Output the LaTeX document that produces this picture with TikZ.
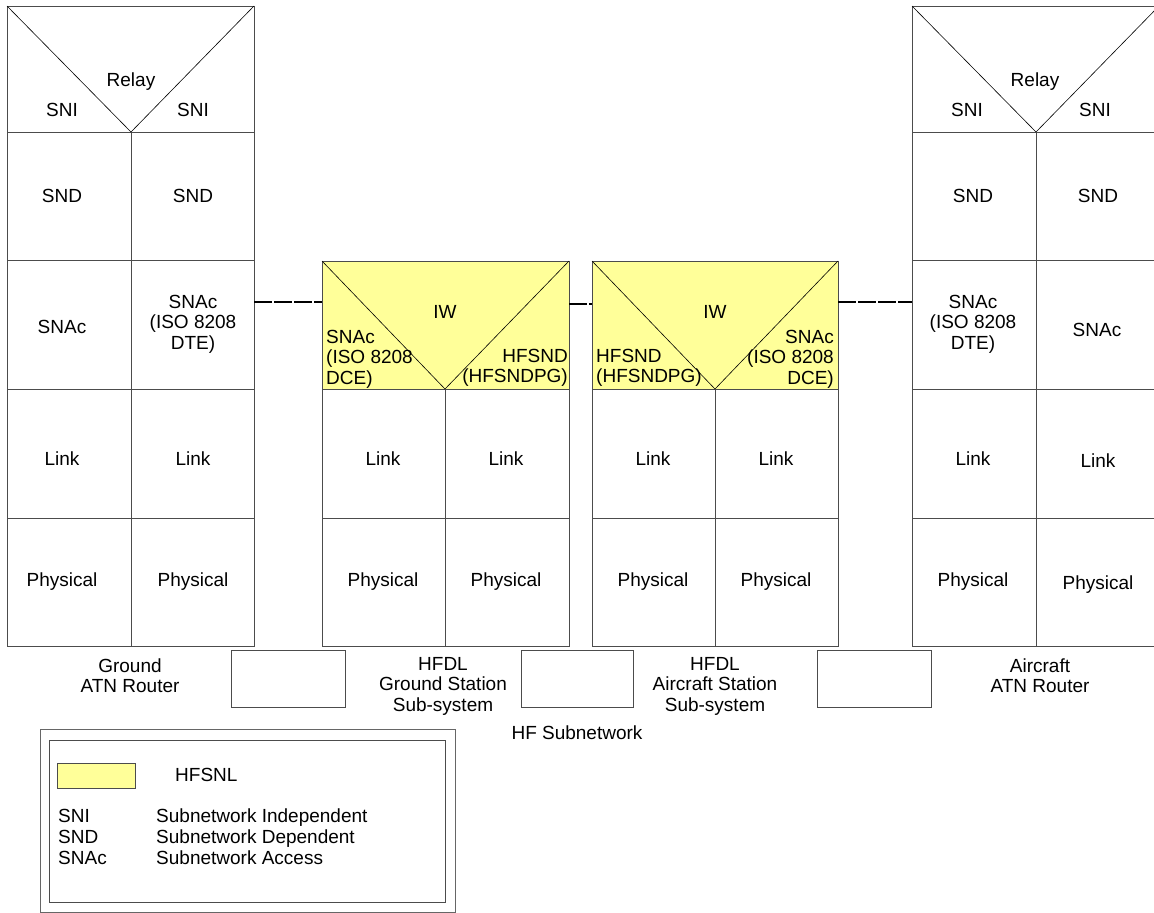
\documentclass[tikz,border=0pt]{standalone}
\usepackage{fontspec}
\setmainfont{Liberation Sans}
\usetikzlibrary{positioning}
\definecolor{snlyellow}{RGB}{255,255,153}
\tikzset{
  frame/.style={draw=black!70,line width=1pt},
  vee/.style={draw=black,line width=0.6pt},
  lbl/.style={font=\fontsize{19}{20.5}\selectfont,inner sep=0pt,align=center},
  sublink/.style={line width=1.6pt,dash pattern=on 18pt off 2pt},
}
\begin{document}
\begin{tikzpicture}[x=1pt,y=-1pt]
 \useasboundingbox (0,0) rectangle (1154,913);
 % ground ATN router
 \draw[frame] (7,6) rectangle (254,646);
 \draw[frame] (7,132)--(254,132) (7,260)--(254,260) (7,389)--(254,389) (7,518)--(254,518);
 \draw[frame] (131,132)--(131,646);
 \draw[vee] (7,6)--(131,132)--(254,6);
 \node[lbl] (grrelay) at (131,82) {Relay};
 \node[lbl] (grsnil) at (62,110) {SNI};
 \node[lbl] (grsnir) at (193,110) {SNI};
 \node[lbl] (grsndl) at (62,196) {SND};
 \node[lbl] (grsndr) at (193,196) {SND};
 \node[lbl] (grsnacl) at (62,327) {SNAc};
 \node[lbl] (grsnacr) at (193,324) {SNAc\\(ISO 8208\\DTE)};
 \node[lbl] (grlinkl) at (62,459) {Link};
 \node[lbl] (grlinkr) at (193,459) {Link};
 \node[lbl] (grphysl) at (62,582) {Physical};
 \node[lbl] (grphysr) at (193,582) {Physical};
 % HFDL ground station
 \fill[snlyellow] (322,261) rectangle (569,389);
 \draw[frame] (322,261) rectangle (569,646);
 \draw[frame] (322,389)--(569,389) (322,518)--(569,518);
 \draw[frame] (445,389)--(445,646);
 \draw[vee] (322,261)--(445,389)--(569,261);
 \node[lbl] (gsiw) at (445,312) {IW};
 \node[lbl,align=left,anchor=west] (gssnac) at (326,359) {SNAc\\(ISO 8208\\DCE)};
 \node[lbl,align=right,anchor=east] (gshfsnd) at (568,368) {HFSND\\(HFSNDPG)};
 \node[lbl] (gslinkl) at (383,459) {Link};
 \node[lbl] (gslinkr) at (506,459) {Link};
 \node[lbl] (gsphysl) at (383,582) {Physical};
 \node[lbl] (gsphysr) at (506,582) {Physical};
 % HFDL aircraft station
 \fill[snlyellow] (592,261) rectangle (838,389);
 \draw[frame] (592,261) rectangle (838,646);
 \draw[frame] (592,389)--(838,389) (592,518)--(838,518);
 \draw[frame] (715,389)--(715,646);
 \draw[vee] (592,261)--(715,389)--(838,261);
 \node[lbl] (asiw) at (715,312) {IW};
 \node[lbl,align=left,anchor=west] (ashfsnd) at (596,368) {HFSND\\(HFSNDPG)};
 \node[lbl,align=right,anchor=east] (assnac) at (834,359) {SNAc\\(ISO 8208\\DCE)};
 \node[lbl] (aslinkl) at (653,459) {Link};
 \node[lbl] (aslinkr) at (776,459) {Link};
 \node[lbl] (asphysl) at (653,582) {Physical};
 \node[lbl] (asphysr) at (776,582) {Physical};
 % aircraft ATN router
 \draw[frame] (912,6) rectangle (1159,646);
 \draw[frame] (912,132)--(1159,132) (912,260)--(1159,260) (912,389)--(1159,389) (912,518)--(1159,518);
 \draw[frame] (1036,132)--(1036,646);
 \draw[vee] (912,6)--(1036,132)--(1159,6);
 \node[lbl] (arrelay) at (1035,82) {Relay};
 \node[lbl] (arsnil) at (967,110) {SNI};
 \node[lbl] (arsnir) at (1095,110) {SNI};
 \node[lbl] (arsndl) at (973,196) {SND};
 \node[lbl] (arsndr) at (1098,196) {SND};
 \node[lbl] (arsnacl) at (973,324) {SNAc\\(ISO 8208\\DTE)};
 \node[lbl] (arsnacr) at (1097,330) {SNAc};
 \node[lbl] (arlinkl) at (973,459) {Link};
 \node[lbl] (arlinkr) at (1098,461) {Link};
 \node[lbl] (arphysl) at (973,582) {Physical};
 \node[lbl] (arphysr) at (1098,585) {Physical};
 % subnetwork links
 \coordinate (grport) at (254,302);
 \coordinate (gsportl) at (322,302);
 \coordinate (gsportr) at (569,304);
 \coordinate (asportl) at (592,304);
 \coordinate (asportr) at (838,302);
 \coordinate (arport) at (912,302);
 \draw[sublink] (grport)--(gsportl);
 \draw[sublink] (gsportr)--(asportl);
 \draw[sublink] (asportr)--(arport);
 % small boxes and captions
 \draw[frame] (231,650) rectangle (345,707);
 \draw[frame] (521,650) rectangle (633,707);
 \draw[frame] (817,650) rectangle (931,707);
 \node[lbl] (grname) at (130,675.5) {Ground\\ATN Router};
 \node[lbl] (gsname) at (443,686) {HFDL\\Ground Station\\Sub-system};
 \node[lbl] (hfname) at (577,733) {HF Subnetwork};
 \node[lbl] (asname) at (715,686) {HFDL\\Aircraft Station\\Sub-system};
 \node[lbl] (arname) at (1040,675.5) {Aircraft\\ATN Router};
 % legend
 \draw[draw=black!60,line width=0.8pt] (40,729) rectangle (455,912);
 \draw[frame] (49,740) rectangle (445,902);
 \draw[frame,fill=snlyellow] (57,763) rectangle (135,788);
 \node[lbl,anchor=base west] (hfsnl) at (175,781) {HFSNL};
 \foreach \ab/\txt [count=\i] in {SNI/Subnetwork Independent,SND/Subnetwork Dependent,SNAc/Subnetwork Access}
  {
  \node[lbl,anchor=base west] (ab\i) at (58,801+21*\i) {\ab};
  \node[lbl,anchor=base west] (txt\i) at (156,801+21*\i) {\txt};
  }
\end{tikzpicture}
\end{document}
